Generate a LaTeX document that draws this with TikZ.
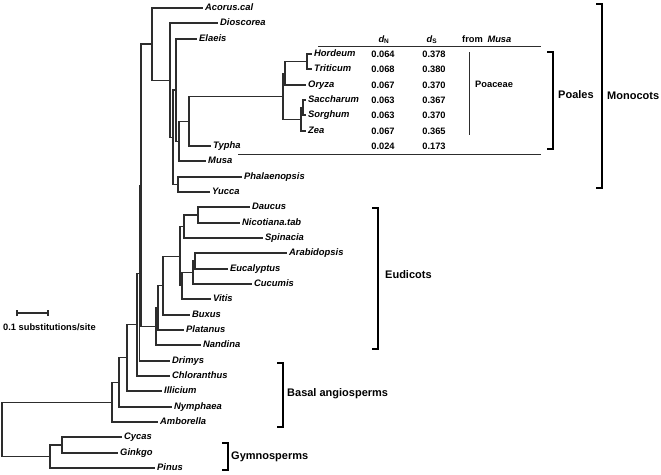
\documentclass[tikz,border=0pt]{standalone}
\usepackage{fontspec}
\setmainfont{Liberation Sans}
\definecolor{brgray}{RGB}{45,45,45}
\tikzset{
  % Taxon label at a branch tip
  TX/.style={anchor=west,font=\fontsize{9.4}{11}\selectfont\bfseries\itshape,
             inner sep=2pt,text height=6.7pt,text depth=1.9pt},
  % Tree branch
  BR/.style={line width=1.15pt,draw=brgray},
  % Table value
  TV/.style={font=\fontsize{9.3}{11}\selectfont\bfseries,inner sep=0pt,
             text height=6.7pt,text depth=0pt},
  % Table rule
  TR/.style={line width=0.9pt,draw=brgray},
  % Clade bracket
  CB/.style={line width=1.2pt,draw=black},
  % Clade name
  CN/.style={anchor=west,font=\fontsize{11}{13}\selectfont\bfseries,inner sep=0pt},
}

\begin{document}
\begin{tikzpicture}[x=1pt,y=-1pt]
  \useasboundingbox (0,0) rectangle (661,474);
  % Taxa -- monocots
  \node[TX] at (203,8)   (Acorus)    {Acorus.cal};
  \node[TX] at (218,23)  (Dioscorea) {Dioscorea};
  \node[TX] at (197,39)  (Elaeis)    {Elaeis};
  \node[TX] at (312,54)  (Hordeum)   {Hordeum};
  \node[TX] at (312,69)  (Triticum)  {Triticum};
  \node[TX] at (306,85)  (Oryza)     {Oryza};
  \node[TX] at (306,100) (Saccharum) {Saccharum};
  \node[TX] at (306,115) (Sorghum)   {Sorghum};
  \node[TX] at (306,131) (Zea)       {Zea};
  \node[TX] at (211,146) (Typha)     {Typha};
  \node[TX] at (206,161) (Musa)      {Musa};
  \node[TX] at (242,177) (Phal)      {Phalaenopsis};
  \node[TX] at (210,192) (Yucca)     {Yucca};
  % Taxa -- eudicots
  \node[TX] at (250,207) (Daucus)    {Daucus};
  \node[TX] at (240,223) (Nicot)     {Nicotiana.tab};
  \node[TX] at (263,238) (Spinacia)  {Spinacia};
  \node[TX] at (287,253) (Arabid)    {Arabidopsis};
  \node[TX] at (228,269) (Eucal)     {Eucalyptus};
  \node[TX] at (252,284) (Cucumis)   {Cucumis};
  \node[TX] at (211,299) (Vitis)     {Vitis};
  \node[TX] at (190,315) (Buxus)     {Buxus};
  \node[TX] at (184,330) (Platanus)  {Platanus};
  \node[TX] at (201,345) (Nandina)   {Nandina};
  % Taxa -- basal angiosperms and gymnosperms
  \node[TX] at (170,361) (Drimys)    {Drimys};
  \node[TX] at (170,376) (Chlor)     {Chloranthus};
  \node[TX] at (162,391) (Illicium)  {Illicium};
  \node[TX] at (172,407) (Nymph)     {Nymphaea};
  \node[TX] at (158,422) (Ambor)     {Amborella};
  \node[TX] at (122,437) (Cycas)     {Cycas};
  \node[TX] at (118,453) (Ginkgo)    {Ginkgo};
  \node[TX] at (155,468) (Pinus)     {Pinus};

  % Internal nodes -- monocots
  \coordinate (nHT)   at (307,61.5);
  \coordinate (nHTO)  at (285,73.3);
  \coordinate (nSS)   at (303,107.5);
  \coordinate (nSSZ)  at (301,119.3);
  \coordinate (nPoa)  at (283,96.3);
  \coordinate (nPT)   at (189,121.1);
  \coordinate (nPTM)  at (179,141.1);
  \coordinate (nEl)   at (176,90);
  \coordinate (nPY)   at (178,184.5);
  \coordinate (nF)    at (173,137.3);
  \coordinate (nDio)  at (170,80.1);
  \coordinate (nMono) at (152,44);
  % Internal nodes -- eudicots
  \coordinate (nDN)   at (198,215);
  \coordinate (nDNS)  at (184,226.5);
  \coordinate (nAE)   at (195,261);
  \coordinate (nAEC)  at (193,272.5);
  \coordinate (nAECV) at (182,285.8);
  \coordinate (nCore) at (180,256.1);
  \coordinate (nBux)  at (163,285.6);
  \coordinate (nPla)  at (158,307.8);
  \coordinate (nEud)  at (156,326.4);
  % Internal nodes -- backbone
  \coordinate (nME)   at (141,185.2);
  \coordinate (nDri)  at (139.5,273.1);
  \coordinate (nChl)  at (137,324.6);
  \coordinate (nIll)  at (127,357.8);
  \coordinate (nNym)  at (119,382.4);
  \coordinate (nAng)  at (112,402.2);
  \coordinate (nCG)   at (62,445);
  \coordinate (nGym)  at (50,456.5);
  \coordinate (nRoot) at (2,429.4);

  % Branches -- monocots
  \draw[BR] (nHT) |- (Hordeum.west) (nHT) |- (Triticum.west);
  \draw[BR] (nHTO) |- (nHT) (nHTO) |- (Oryza.west);
  \draw[BR] (nSS) |- (Saccharum.west) (nSS) |- (Sorghum.west);
  \draw[BR] (nSSZ) |- (nSS) (nSSZ) |- (Zea.west);
  \draw[BR] (nPoa) |- (nHTO) (nPoa) |- (nSSZ);
  \draw[BR] (nPT) |- (nPoa) (nPT) |- (Typha.west);
  \draw[BR] (nPTM) |- (nPT) (nPTM) |- (Musa.west);
  \draw[BR] (nEl) |- (Elaeis.west) (nEl) |- (nPTM);
  \draw[BR] (nPY) |- (Phal.west) (nPY) |- (Yucca.west);
  \draw[BR] (nF) |- (nEl) (nF) |- (nPY);
  \draw[BR] (nDio) |- (Dioscorea.west) (nDio) |- (nF);
  \draw[BR] (nMono) |- (Acorus.west) (nMono) |- (nDio);
  % Branches -- eudicots
  \draw[BR] (nDN) |- (Daucus.west) (nDN) |- (Nicot.west);
  \draw[BR] (nDNS) |- (nDN) (nDNS) |- (Spinacia.west);
  \draw[BR] (nAE) |- (Arabid.west) (nAE) |- (Eucal.west);
  \draw[BR] (nAEC) |- (nAE) (nAEC) |- (Cucumis.west);
  \draw[BR] (nAECV) |- (nAEC) (nAECV) |- (Vitis.west);
  \draw[BR] (nCore) |- (nDNS) (nCore) |- (nAECV);
  \draw[BR] (nBux) |- (nCore) (nBux) |- (Buxus.west);
  \draw[BR] (nPla) |- (nBux) (nPla) |- (Platanus.west);
  \draw[BR] (nEud) |- (nPla) (nEud) |- (Nandina.west);
  % Branches -- backbone
  \draw[BR] (nME) |- (nMono) (nME) |- (nEud);
  \draw[BR] (nDri) |- (nME) (nDri) |- (Drimys.west);
  \draw[BR] (nChl) |- (nDri) (nChl) |- (Chlor.west);
  \draw[BR] (nIll) |- (nChl) (nIll) |- (Illicium.west);
  \draw[BR] (nNym) |- (nIll) (nNym) |- (Nymph.west);
  \draw[BR] (nAng) |- (nNym) (nAng) |- (Ambor.west);
  \draw[BR] (nCG) |- (Cycas.west) (nCG) |- (Ginkgo.west);
  \draw[BR] (nGym) |- (nCG) (nGym) |- (Pinus.west);
  \draw[BR] (nRoot) |- (nAng) (nRoot) |- (nGym);

  % Distance table
  \node[TV] at (384,39) (hdN) {\itshape d\textsubscript{\upshape N}};
  \node[TV] at (432,39) (hdS) {\itshape d\textsubscript{\upshape S}};
  \node[TV,anchor=west] at (462,39) (hfrom) {from\enspace\itshape Musa};
  \coordinate (ruleL) at (318,46);
  \coordinate (ruleR) at (541,46);
  \draw[TR] (ruleL) -- (ruleR);
  \node[TV] at (383,54)  (dnHor) {0.064}; \node[TV] at (434,54)  (dsHor) {0.378};
  \node[TV] at (383,69)  (dnTri) {0.068}; \node[TV] at (434,69)  (dsTri) {0.380};
  \node[TV] at (383,85)  (dnOry) {0.067}; \node[TV] at (434,85)  (dsOry) {0.370};
  \node[TV] at (383,100) (dnSac) {0.063}; \node[TV] at (434,100) (dsSac) {0.367};
  \node[TV] at (383,115) (dnSor) {0.063}; \node[TV] at (434,115) (dsSor) {0.370};
  \node[TV] at (383,131) (dnZea) {0.067}; \node[TV] at (434,131) (dsZea) {0.365};
  \node[TV] at (383,146) (dnTyp) {0.024}; \node[TV] at (434,146) (dsTyp) {0.173};
  \coordinate (musaL) at (238,154);
  \coordinate (musaR) at (541,154);
  \draw[TR] (musaL) -- (musaR);
  % Poaceae bar
  \coordinate (poaT) at (469,52);
  \coordinate (poaB) at (469,135);
  \draw[TR] (poaT) -- (poaB);
  \node[TV,anchor=west] at (475,84) (Poaceae) {Poaceae};

  % Clade brackets
  \coordinate (monoT) at (602,4);   \coordinate (monoB) at (602,188);
  \draw[CB] ([xshift=-6pt]monoT) -- (monoT) -- (monoB) -- ([xshift=-6pt]monoB);
  \node[CN] at (607,96) (Monocots) {Monocots};
  \coordinate (poalT) at (553,52);  \coordinate (poalB) at (553,149);
  \draw[CB] ([xshift=-6pt]poalT) -- (poalT) -- (poalB) -- ([xshift=-6pt]poalB);
  \node[CN] at (558,95) (Poales) {Poales};
  \coordinate (eudT) at (378,208);  \coordinate (eudB) at (378,349);
  \draw[CB] ([xshift=-6pt]eudT) -- (eudT) -- (eudB) -- ([xshift=-6pt]eudB);
  \node[CN] at (385,275) (Eudicots) {Eudicots};
  \coordinate (basT) at (283,363);  \coordinate (basB) at (283,427);
  \draw[CB] ([xshift=-6pt]basT) -- (basT) -- (basB) -- ([xshift=-6pt]basB);
  \node[CN] at (287,394) (Basal) {Basal angiosperms};
  \coordinate (gymT) at (228,443);  \coordinate (gymB) at (228,470);
  \draw[CB] ([xshift=-6pt]gymT) -- (gymT) -- (gymB) -- ([xshift=-6pt]gymB);
  \node[CN] at (231,457) (Gymno) {Gymnosperms};

  % Scale bar
  \coordinate (sbL) at (17,313);
  \coordinate (sbR) at (48,313);
  \draw[BR] (sbL) -- (sbR);
  \draw[BR] ([yshift=-3pt]sbL) -- ([yshift=3pt]sbL);
  \draw[BR] ([yshift=-3pt]sbR) -- ([yshift=3pt]sbR);
  \node[TV,anchor=west] at (3,327) (sbLabel) {0.1 substitutions/site};
\end{tikzpicture}
\end{document}
